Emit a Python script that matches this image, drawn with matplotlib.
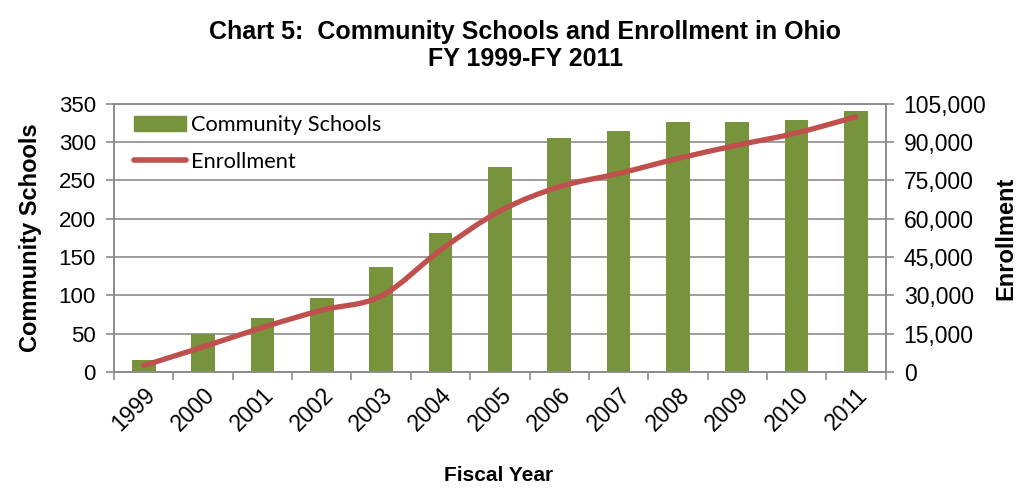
import matplotlib
matplotlib.use("Agg")
from matplotlib import pyplot as plt
from matplotlib.path import Path
from matplotlib.patches import PathPatch
from matplotlib.lines import Line2D
from matplotlib.ticker import FuncFormatter
import numpy as np

years = ["1999", "2000", "2001", "2002", "2003", "2004", "2005",
         "2006", "2007", "2008", "2009", "2010", "2011"]
schools = [15, 49, 70, 96, 137, 181, 268, 305, 315, 326, 326, 329, 341]
enrollment = [2500, 9800, 17400, 24200, 29700, 47700, 63000,
              72500, 77700, 83600, 88800, 93600, 99900]

green = "#77933C"
red = "#C0504D"
grid_gray = "#8C8C8C"
plt.rcParams["font.family"] = ["Liberation Sans", "DejaVu Sans"]

fig = plt.figure(figsize=(10.18, 4.92), dpi=100)
ax = fig.add_axes([0.112, 0.244, 0.758, 0.545])
ax2 = ax.twinx()

x = np.arange(len(years))
ax.bar(x, schools, width=0.4, color=green, zorder=3)
ax.set_xlim(-0.5, len(years) - 0.5)
ax.set_ylim(0, 350)
ax.set_yticks(range(0, 351, 50))
ax.grid(axis="y", color=grid_gray, linewidth=1.2, zorder=0)
ax.set_axisbelow(True)

# smooth line (catmull-rom as bezier segments, like excel's smoothed line)
pts = np.column_stack([x, enrollment]).astype(float)
verts = [tuple(pts[0])]
codes = [Path.MOVETO]
for i in range(len(pts) - 1):
    p0 = pts[max(i - 1, 0)]
    p1 = pts[i]
    p2 = pts[i + 1]
    p3 = pts[min(i + 2, len(pts) - 1)]
    c1 = p1 + (p2 - p0) / 6
    c2 = p2 - (p3 - p1) / 6
    verts += [tuple(c1), tuple(c2), tuple(p2)]
    codes += [Path.CURVE4] * 3
ax2.add_patch(PathPatch(Path(verts, codes), fill=False, edgecolor=red,
                        linewidth=3.8, capstyle="round", zorder=4))
ax2.set_ylim(0, 105000)
ax2.set_yticks(range(0, 105001, 15000))
ax2.yaxis.set_major_formatter(FuncFormatter(lambda v, p: "{:,.0f}".format(v)))

# ticks
ax.set_xticks(x)
ax.set_xticklabels(years, rotation=45, ha="right", va="top",
                   rotation_mode="anchor", fontsize=16.5)
ax.set_xticks(np.arange(-0.5, len(years), 1), minor=True)
ax.tick_params(axis="x", which="major", length=0, pad=8)
ax.tick_params(axis="x", which="minor", length=6, color=grid_gray, width=1.2)
ax.tick_params(axis="y", length=6, color=grid_gray, width=1.2, labelsize=16, pad=7)
ax2.tick_params(axis="y", length=6, color=grid_gray, width=1.2, labelsize=16.5, pad=7)

for a in (ax, ax2):
    for s in a.spines.values():
        s.set_color(grid_gray)
        s.set_linewidth(1.2)

ax.set_ylabel("Community Schools", fontsize=17, fontweight="bold", labelpad=12)
ax2.set_ylabel("Enrollment", fontsize=17, fontweight="bold", rotation=90, labelpad=6)
fig.text(0.49, 0.015, "Fiscal Year", ha="center", va="bottom",
         fontsize=15, fontweight="bold")
fig.suptitle("Chart 5:  Community Schools and Enrollment in Ohio\nFY 1999-FY 2011",
             x=0.516, y=0.96, fontsize=18, fontweight="bold", linespacing=1.2)

handles = [plt.Rectangle((0, 0), 1, 1, color=green),
           Line2D([0], [0], color=red, linewidth=4, solid_capstyle="round")]
ax2.legend(handles, ["Community Schools", "Enrollment"], loc="upper left",
           frameon=False, prop={"family": "Lato", "size": 15.7},
           handlelength=2.4, handletextpad=0.25, labelspacing=0.75,
           bbox_to_anchor=(0.0, 1.03))

fig.savefig("out.png", dpi=100)
